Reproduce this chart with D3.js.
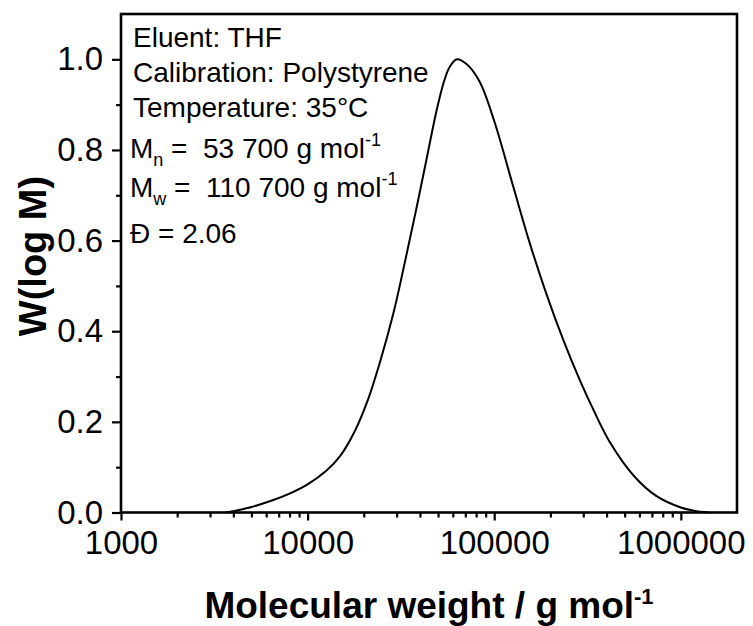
<!DOCTYPE html>
<html>
<head>
<meta charset="utf-8">
<script src="https://cdn.jsdelivr.net/npm/d3@7"></script>
<style>
  html, body { margin: 0; padding: 0; background: #fff; }
  svg { display: block; }
  text { font-family: "Liberation Sans", Arial, sans-serif; fill: #000; white-space: pre; }
</style>
</head>
<body>
<svg id="chart" width="753" height="626"></svg>
<script>
// ---- data ----
const molWeight = [3631, 4365, 5012, 6607, 7943, 10000, 12589, 14962, 17783,
  20893, 24547, 28840, 33113, 38019, 43652, 48978, 53703, 57544, 63096, 70795,
  83176, 100000, 125893, 154882, 190546, 234423, 288403, 338844, 416869,
  562341, 741310, 1000000, 1174898, 1412538];
const wLogM = [0.0, 0.006, 0.012, 0.028, 0.041, 0.062, 0.092, 0.125, 0.177,
  0.245, 0.335, 0.44, 0.55, 0.665, 0.785, 0.885, 0.95, 0.982, 1.0, 0.99,
  0.952, 0.864, 0.722, 0.595, 0.482, 0.381, 0.291, 0.228, 0.155,
  0.080, 0.036, 0.011, 0.004, 0.0];
const xTickValues = [1000, 10000, 100000, 1000000];
const xTickLabels = ["1000", "10000", "100000", "1000000"];
const yTickValues = [0, 0.2, 0.4, 0.6, 0.8, 1.0];
const yTickLabels = ["0.0", "0.2", "0.4", "0.6", "0.8", "1.0"];
const xDomain = [1000, 2000000];
const yDomain = [0, 1.1];

// ---- layout ----
const svg = d3.select("#chart");
const L = 121, R = 737, T = 14, B = 512.5;

const x = d3.scaleLog().domain(xDomain).range([L, R]);
const y = d3.scaleLinear().domain(yDomain).range([B, T]);

// minor ticks
const xMinor = [];
for (let d = 1000; d < 2000000; d *= 10) {
  for (let k = 2; k <= 9; k++) { const v = d * k; if (v < 2000000) xMinor.push(v); }
}
const yMinor = [0.1, 0.3, 0.5, 0.7, 0.9];

const xAxis = svg.append("g").attr("transform", `translate(0,${B})`)
  .call(d3.axisBottom(x).tickValues(xTickValues)
    .tickFormat((d, i) => xTickLabels[i]).tickSize(8).tickPadding(10));
const xAxisMinor = svg.append("g").attr("transform", `translate(0,${B})`)
  .call(d3.axisBottom(x).tickValues(xMinor).tickFormat("").tickSize(5));
const yAxis = svg.append("g").attr("transform", `translate(${L},0)`)
  .call(d3.axisLeft(y).tickValues(yTickValues)
    .tickFormat((d, i) => yTickLabels[i]).tickSize(9).tickPadding(9));
const yAxisMinor = svg.append("g").attr("transform", `translate(${L},0)`)
  .call(d3.axisLeft(y).tickValues(yMinor).tickFormat("").tickSize(5));

[xAxis, xAxisMinor, yAxis, yAxisMinor].forEach(g => {
  g.select(".domain").remove();
  g.selectAll(".tick line").attr("stroke", "#000").attr("stroke-width", 2.2);
  g.selectAll(".tick text").style("font-size", "33px")
    .style("font-family", "'Liberation Sans', Arial, sans-serif").attr("fill", "#000");
});

// frame
svg.append("rect").attr("x", L).attr("y", T).attr("width", R - L).attr("height", B - T)
  .attr("fill", "none").attr("stroke", "#000").attr("stroke-width", 2.6);

// curve
const line = d3.line()
  .x((d, i) => x(molWeight[i]))
  .y((d, i) => y(wLogM[i]))
  .curve(d3.curveCatmullRom.alpha(0.5));
svg.append("path").datum(wLogM).attr("d", line)
  .attr("fill", "none").attr("stroke", "#000").attr("stroke-width", 2);

// axis titles
const xt = svg.append("text").attr("x", (L + R) / 2).attr("y", 618)
  .attr("text-anchor", "middle").style("font-size", "37px").style("font-weight", "bold");
xt.append("tspan").text("Molecular weight / g mol");
xt.append("tspan").attr("dy", -14).style("font-size", "22px").text("-1");

svg.append("text").attr("transform", `translate(46,256) rotate(-90)`)
  .attr("text-anchor", "middle").style("font-size", "38px").style("font-weight", "bold")
  .text("W(log M)");

// annotation block
const infoLines = [
  {x: 133, y: 47, parts: [["Eluent: THF", 0]]},
  {x: 133, y: 82, parts: [["Calibration: Polystyrene", 0]]},
  {x: 133, y: 117, parts: [["Temperature: 35°C", 0]]},
  {x: 130, y: 158, parts: [["M", 0], ["n", 1], [" =  53 700 g mol", 0], ["-1", -1]]},
  {x: 130, y: 197, parts: [["M", 0], ["w", 1], [" =  110 700 g mol", 0], ["-1", -1]]},
  {x: 130, y: 243, parts: [["Đ = 2.06", 0]]}
];
infoLines.forEach(l => {
  const t = svg.append("text").attr("x", l.x).attr("y", l.y).style("font-size", "28px");
  let shift = 0;
  l.parts.forEach(([s, kind]) => {
    const ts = t.append("tspan").text(s);
    const target = kind === 1 ? 8 : kind === -1 ? -12 : 0;
    ts.attr("dy", target - shift);
    shift = target;
    if (kind !== 0) ts.style("font-size", "18px");
  });
});
</script>
</body>
</html>
